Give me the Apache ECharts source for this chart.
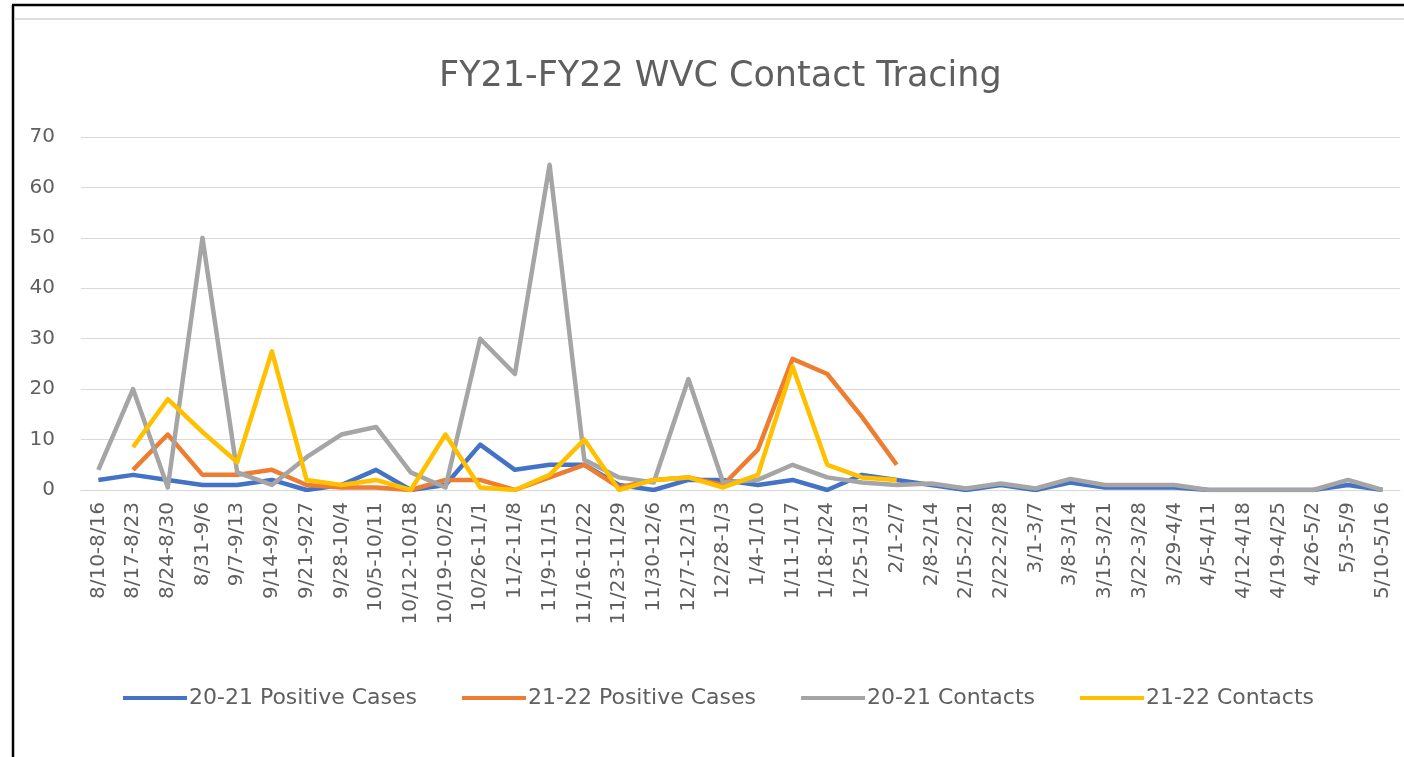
<!DOCTYPE html>
<html><head><meta charset="utf-8">
<script src="https://cdn.jsdelivr.net/npm/echarts@6/dist/echarts.min.js"></script>
<style>html,body{margin:0;padding:0;background:#fff}#c{width:1404px;height:757px}</style>
</head><body><div id="c"></div>
<script>
const categories = ["8/10-8/16","8/17-8/23","8/24-8/30","8/31-9/6","9/7-9/13","9/14-9/20","9/21-9/27","9/28-10/4","10/5-10/11","10/12-10/18","10/19-10/25","10/26-11/1","11/2-11/8","11/9-11/15","11/16-11/22","11/23-11/29","11/30-12/6","12/7-12/13","12/28-1/3","1/4-1/10","1/11-1/17","1/18-1/24","1/25-1/31","2/1-2/7","2/8-2/14","2/15-2/21","2/22-2/28","3/1-3/7","3/8-3/14","3/15-3/21","3/22-3/28","3/29-4/4","4/5-4/11","4/12-4/18","4/19-4/25","4/26-5/2","5/3-5/9","5/10-5/16"];
const pos2021 = [2,3,2,1,1,2,0,1,4,0,1,9,4,5,5,1,0,2,2,1,2,0,3,2,1,0,1,0,1.5,0.5,0.5,0.5,0,0,0,0,1,0];
const pos2122 = [null,4,11,3,3,4,1,0.5,0.5,0,2,2,0,2.5,5,0.5,2,2.5,1,8,26,23,14.5,5];
const con2021 = [4,20,0.5,50,3.5,1,6.5,11,12.5,3.5,0.5,30,23,64.5,6,2.5,1.5,22,1.5,2,5,2.5,1.5,1,1.3,0.3,1.3,0.3,2.2,1,1,1,0,0,0,0,2,0];
const con2122 = [null,8.5,18,11.5,5.5,27.5,2,1,2,0,11,0.5,0,3,10,0,2,2.5,0.5,3,24.5,5,2.5,2];
const yTicks = [0,10,20,30,40,50,60,70];
const seriesNames = ["20-21 Positive Cases","21-22 Positive Cases","20-21 Contacts","21-22 Contacts"];
const colors = ["#4472C4","#ED7D31","#A5A5A5","#FFC000"];
const dataSets = [pos2021,pos2122,con2021,con2122];
const chart = echarts.init(document.getElementById('c'));
const font = "'DejaVu Sans', sans-serif";
chart.setOption({
  animation:false,
  color:colors,
  title:{text:"FY21-FY22 WVC Contact Tracing",left:434,top:54,textStyle:{fontFamily:font,fontSize:35,fontWeight:'normal',color:'#5f5f5f'}},
  grid:{left:81,right:4,top:137,bottom:267},
  legend:{top:682,left:118,itemWidth:64,itemHeight:4,itemGap:45,icon:'rect',textStyle:{fontFamily:font,fontSize:22,color:'#5f5f5f',padding:[0,0,0,-3]},data:seriesNames},
  xAxis:{type:'category',data:categories,boundaryGap:true,
    axisLine:{lineStyle:{color:'#d9d9d9'}},axisTick:{show:false},
    axisLabel:{rotate:90,interval:0,fontFamily:font,fontSize:20,color:'#5f5f5f',margin:12}},
  yAxis:{type:'value',min:0,max:70,interval:10,
    axisLine:{show:false},axisTick:{show:false},
    splitLine:{lineStyle:{color:'#d9d9d9',width:1}},
    axisLabel:{fontFamily:font,fontSize:20,color:'#5f5f5f',margin:26,formatter:v=>yTicks.includes(v)?String(v):''}},
  graphic:[
    {type:'line',shape:{x1:12,y1:5,x2:1404,y2:5},style:{stroke:'#000',lineWidth:2.5}},
    {type:'line',shape:{x1:13,y1:5,x2:13,y2:757},style:{stroke:'#000',lineWidth:2.5}},
    {type:'line',shape:{x1:14,y1:19,x2:1404,y2:19},style:{stroke:'#d0d0d0',lineWidth:1.5}}
  ],
  series:dataSets.map((d,i)=>({name:seriesNames[i],type:'line',data:d,showSymbol:false,symbol:'none',
    lineStyle:{width:4.5,color:colors[i],join:'round'},z:2+i}))
});
</script></body></html>
